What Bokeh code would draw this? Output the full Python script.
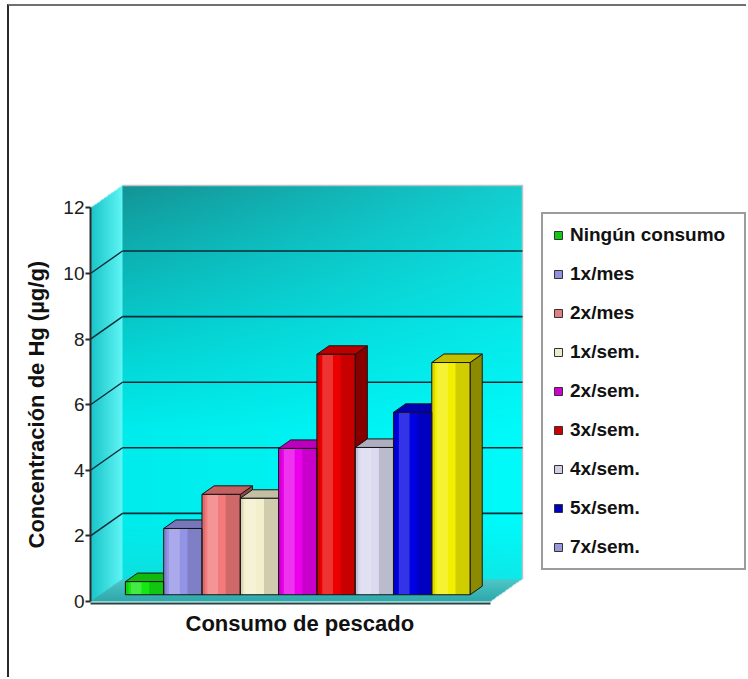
import numpy as np
from bokeh.plotting import figure
from bokeh.models import Range1d, FixedTicker, Legend, LegendItem, Title
from bokeh.embed import file_html
from bokeh.resources import INLINE

# ---------------- data ----------------
categories = ["Ningún consumo", "1x/mes", "2x/mes", "1x/sem.", "2x/sem.",
              "3x/sem.", "4x/sem.", "5x/sem.", "7x/sem."]
hg_values = [0.40, 2.02, 3.06, 2.94, 4.46, 7.33, 4.49, 5.56, 7.08]
bar_colors = ["#14e614", "#9494e6", "#f27a7a", "#f3efcc", "#ea00ea",
              "#ea0000", "#dadaf0", "#0000e2", "#f3ef00"]
legend_colors = ["#12c812", "#9090dc", "#e08080", "#ececcc", "#d000d0",
                 "#cc0000", "#d0d0e2", "#0000c0", "#9898d8"]
y_ticks = [0, 2, 4, 6, 8, 10, 12]
y_label = "Concentración de Hg (µg/g)"
x_label = "Consumo de pescado"

# ---------------- geometry (pseudo 3-D) ----------------
PX_X = 38.3            # screen px per bar slot
PX_Y = 32.8            # screen px per µg/g
DX = 32 / PX_X         # depth offset of the back wall, x units
DY = 22.5 / PX_Y       # depth offset of the back wall, value units
FLOOR_W = 400 / PX_X   # width of the floor
Y_MAX = 12
GROUP_START = 0.66
F0, F1 = 0.30, 0.68    # depth slab occupied by the bars

W, H = 739, 673
LEFT, BOTTOM = 81, 76
frame_w, frame_h = W - LEFT, H - BOTTOM
y0 = -2 / PX_Y

p = figure(width=W, height=H, output_backend="svg", toolbar_location=None,
           x_range=Range1d(0, frame_w / PX_X), y_range=Range1d(y0, y0 + frame_h / PX_Y),
           min_border_left=LEFT, min_border_right=0, min_border_top=0,
           min_border_bottom=BOTTOM)
p.outline_line_color = None
p.background_fill_color = "white"
p.border_fill_color = "white"
for g in p.grid:
    g.visible = False
p.styles = {"margin-left": "7px", "margin-top": "4px",
            "border-left": "2px solid #2b2b2b", "border-top": "2px solid #707070"}

# ---------------- walls & floor as a shaded image ----------------
ix1, iy1 = FLOOR_W + DX, Y_MAX + DY
nx, ny = int(round(ix1 * PX_X)), int(round(iy1 * PX_Y))
xs = (np.arange(nx) + 0.5) * ix1 / nx
ys = (np.arange(ny) + 0.5) * iy1 / ny
X, Y = np.meshgrid(xs, ys)
rgb = np.zeros((ny, nx, 3))
alpha = np.zeros((ny, nx))
cyan = np.array([0, 1, 1])[None, None, :]

back = (X >= DX) & (X <= DX + FLOOR_W) & (Y >= DY) & (Y <= Y_MAX + DY)
t = np.clip((Y - DY) / Y_MAX, 0, 1)
h = np.clip((X - DX) / FLOOR_W, 0, 1)
k = np.clip((1 - t) / 0.62, 0, 1) ** 0.85
dark = np.array([20, 146, 148]); bright = np.array([0, 236, 236])
bc = dark[None, None, :] + (bright - dark)[None, None, :] * k[..., None]
bc = bc + (h * (1 - k) * 45)[..., None] * cyan + (h * 14)[..., None] * cyan
low = np.clip((0.14 - t) / 0.14, 0, 1) * 0.35
bc = bc * (1 - low[..., None]) + np.array([40, 200, 200])[None, None, :] * low[..., None]
rgb[back] = bc[back]
alpha[back] = 255

side = (X < DX) & (Y >= X / DX * DY) & (Y <= Y_MAX + X / DX * DY)
s = np.clip(X / DX, 0, 1)
c0, c1 = np.array([24, 196, 200]), np.array([96, 246, 246])
sc = c0[None, None, :] + (c1 - c0)[None, None, :] * s[..., None]
rgb[side] = sc[side]
alpha[side] = 255

floor = (Y < DY) & (Y >= 0) & (X > Y / DY * DX) & (X <= FLOOR_W + Y / DY * DX)
u = np.clip(Y / DY, 0, 1)
f0c, f1c = np.array([46, 168, 170]), np.array([80, 200, 202])
fc = f0c[None, None, :] + (f1c - f0c)[None, None, :] * u[..., None]
rgb[floor] = fc[floor]
alpha[floor] = 255

img = np.empty((ny, nx), dtype=np.uint32)
view = img.view(dtype=np.uint8).reshape((ny, nx, 4))
for ch in range(3):
    view[..., ch] = np.clip(rgb[..., ch], 0, 255)
view[..., 3] = alpha
p.image_rgba(image=[img], x=0, y=0, dw=ix1, dh=iy1)

# back-wall rim
p.line([DX, DX + FLOOR_W, DX + FLOOR_W], [Y_MAX + DY, Y_MAX + DY, DY],
       line_color="#b8c4c4", line_width=1.5)

# gridlines on back wall and side wall
grid_vals = [v for v in y_ticks if 0 < v < Y_MAX]
p.multi_line(xs=[[DX, DX + FLOOR_W] for v in grid_vals],
             ys=[[v + DY, v + DY] for v in grid_vals],
             line_color="#0b2b36", line_width=1.6)
p.multi_line(xs=[[0, DX] for v in grid_vals],
             ys=[[v, v + DY] for v in grid_vals],
             line_color="#0b2b36", line_width=1.4)

# ---------------- bars ----------------
def shade(hexc, f):
    hexc = hexc.lstrip("#")
    r, g, b = (int(hexc[i:i + 2], 16) for i in (0, 2, 4))
    return "#%02x%02x%02x" % (int(r * f), int(g * f), int(b * f))

lefts = [GROUP_START + i for i in range(len(hg_values))]
rights = [l + 1 for l in lefts]

side_xs, side_ys, top_xs, top_ys = [], [], [], []
for l, r, v in zip(lefts, rights, hg_values):
    side_xs.append([r + F0 * DX, r + F1 * DX, r + F1 * DX, r + F0 * DX])
    side_ys.append([F0 * DY, F1 * DY, v + F1 * DY, v + F0 * DY])
    top_xs.append([l + F0 * DX, r + F0 * DX, r + F1 * DX, l + F1 * DX])
    top_ys.append([v + F0 * DY, v + F0 * DY, v + F1 * DY, v + F1 * DY])

p.patches(xs=side_xs, ys=side_ys, fill_color=[shade(c, 0.58) for c in bar_colors],
          line_color="#151515", line_width=1)
p.patches(xs=top_xs, ys=top_ys, fill_color=[shade(c, 0.8) for c in bar_colors],
          line_color="#151515", line_width=1)

front_l = [l + F0 * DX for l in lefts]
front_r = [r + F0 * DX for r in rights]
front_t = [v + F0 * DY for v in hg_values]
p.quad(left=front_l, right=front_r, bottom=F0 * DY, top=front_t,
       fill_color=bar_colors, line_color=None)
# cylindrical sheen on the front faces
p.quad(left=[l + 0.14 for l in front_l], right=[l + 0.42 for l in front_l],
       bottom=F0 * DY, top=front_t, fill_color="white", fill_alpha=0.2, line_color=None)
p.quad(left=[l + 0.62 for l in front_l], right=front_r,
       bottom=F0 * DY, top=front_t, fill_color="black", fill_alpha=0.14, line_color=None)
p.quad(left=front_l, right=[l + 0.08 for l in front_l],
       bottom=F0 * DY, top=front_t, fill_color="black", fill_alpha=0.1, line_color=None)
p.quad(left=front_l, right=front_r, bottom=F0 * DY, top=front_t,
       fill_color=None, line_color="#151515", line_width=1)

# ---------------- axes ----------------
ya = p.yaxis[0]
ya.ticker = FixedTicker(ticks=y_ticks)
ya.bounds = (0, Y_MAX)
ya.axis_line_color = "#2a2a2a"
ya.axis_line_width = 2
ya.major_tick_out = 5
ya.major_tick_in = 0
ya.major_tick_line_color = "#2a2a2a"
ya.major_tick_line_width = 2
ya.minor_tick_line_color = None
ya.major_label_standoff = 1
ya.major_label_text_font = "Liberation Sans"
ya.major_label_text_font_size = "19px"
ya.major_label_text_color = "#202020"

xa = p.xaxis[0]
xa.ticker = FixedTicker(ticks=[])
xa.bounds = (0, FLOOR_W)
xa.axis_line_color = "#1e4646"
xa.axis_line_width = 2
xa.major_tick_out = 0
xa.minor_tick_line_color = None

# axis titles, placed along the chart body
p.add_layout(Title(text=y_label, align="left", offset=55, standoff=24,
                   text_font="Liberation Sans", text_font_style="bold",
                   text_font_size="22px", text_color="#111111"), "left")
p.add_layout(Title(text=x_label, align="left", offset=95, standoff=11,
                   text_font="Liberation Sans", text_font_style="bold",
                   text_font_size="22px", text_color="#111111"), "below")

# ---------------- legend ----------------
items = []
for cat, col in zip(categories, legend_colors):
    r = p.quad(left=[-9], right=[-8], top=[-8], bottom=[-9], fill_color=col,
               line_color="#333333")
    items.append(LegendItem(label=cat, renderers=[r]))
legend = Legend(items=items, location=(451, 33), orientation="vertical",
                label_text_font="Liberation Sans", label_text_font_style="bold",
                label_text_font_size="19px", label_text_color="#111111",
                glyph_width=10, glyph_height=10, label_height=20, label_standoff=7,
                label_width=164, spacing=17, padding=10, margin=0,
                border_line_color="#3a3a3a", border_line_width=2,
                background_fill_color="white", background_fill_alpha=1)
p.add_layout(legend)

open("out.html", "w").write(file_html(p, INLINE))
